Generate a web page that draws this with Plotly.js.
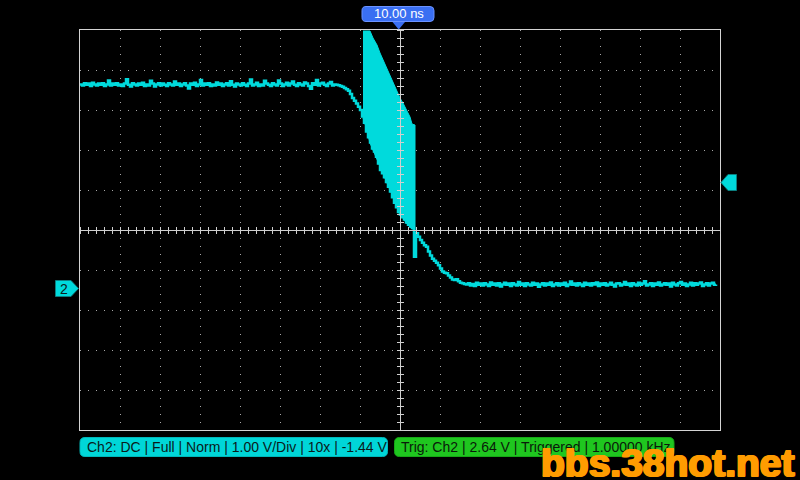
<!DOCTYPE html>
<html>
<head>
<meta charset="utf-8">
<script src="https://cdn.plot.ly/plotly-3.0.1.min.js"></script>
<style>
  html, body { margin: 0; padding: 0; background: #000; }
  #chart { width: 800px; height: 480px; }
</style>
</head>
<body>
<div id="chart"></div>
<script>
// ---- Data (time in divisions relative to screen centre, voltage in V) ----
// Sampled waveform: first sample at -8 div, one sample every 0.05 div
const sampleStart = -8;
const sampleStep = 0.05;

// High level before the edge (5 V logic level, noisy)
const highLevel = [
  5.08,5.05,5.11,5.07,5.10,5.04,5.12,5.08,5.05,5.10,
  5.07,5.11,5.04,5.08,5.18,5.05,5.10,5.07,5.11,5.05,
  5.08,5.04,5.10,5.21,5.07,5.03,5.11,5.08,5.05,5.10,
  5.07,5.12,5.04,5.08,5.05,5.17,5.10,5.03,5.08,5.11,
  5.05,5.10,5.07,5.04,5.11,5.08,5.05,5.15,5.07,5.10,
  5.04,5.08,5.11,5.05,4.98,5.10,5.07,5.12,5.04,5.08,
  5.19,5.05,5.10,5.07,5.11,5.04,5.08,5.05,5.13,5.07,
  5.10,5.04,5.08,5.11,5.05,5.16,5.07,5.03,5.10,5.08,
  5.05,5.11,5.07,5.04,5.10,5.20,5.05,5.08,5.12,5.04,
  5.08,5.05,5.17,5.10,5.07,5.04,5.11,5.08,5.05,5.18,
  5.10,5.04,5.08,5.12,5.05,5.10,5.15,5.07,5.04,5.11,
  5.08,5.05,5.13,5.10,5.04,4.97,5.11,5.07,5.19,5.05,
  5.10,5.12,5.07,5.04,5.10,5.14,5.05,5.08,5.07
];

// Falling edge
const fallingEdge = [
  5.06,5.04,5.02,4.99,4.96,4.92,4.84,4.74,4.67,4.60,
  4.52,4.44,4.28,4.12,3.90,3.76,3.63,3.48,3.40,3.27,
  3.10,2.94,2.86,2.76,2.64,2.52,2.40,2.26,2.12,2.01,
  1.89,1.83,1.76,1.70,1.63,1.57,1.53,1.49,0.77,1.36,
  1.27,1.19,1.12,1.06,1.02,0.90,0.80,0.72,0.67,0.62,
  0.56,0.48,0.40,0.37,0.36,0.30,0.25,0.20,0.19,0.21,
  0.16,0.12,0.11,0.09
];

// Low level after the edge
const lowLevel = [
  0.08,0.11,0.05,0.09,0.04,0.12,0.07,0.10,0.05,0.11,
  0.08,0.04,0.13,0.07,0.10,0.05,0.11,0.03,0.08,0.12,
  0.07,0.10,0.04,0.11,0.08,0.05,0.14,0.07,0.10,0.04,
  0.11,0.08,0.05,0.12,0.07,0.10,0.02,0.08,0.11,0.05,
  0.10,0.07,0.13,0.04,0.08,0.11,0.05,0.10,0.07,0.12,
  0.04,0.08,0.15,0.07,0.10,0.05,0.11,0.08,0.04,0.12,
  0.07,0.10,0.05,0.11,0.08,0.13,0.04,0.10,0.07,0.11,
  0.05,0.08,0.12,0.07,0.03,0.10,0.11,0.05,0.08,0.14,
  0.07,0.10,0.04,0.11,0.08,0.05,0.12,0.07,0.10,0.16,
  0.05,0.08,0.11,0.04,0.10,0.07,0.13,0.05,0.08,0.11,
  0.07,0.10,0.03,0.12,0.08,0.05,0.11,0.14,0.07,0.10,
  0.04,0.08,0.12,0.05,0.11,0.07,0.10,0.13,0.04,0.08,
  0.11,0.05,0.10,0.12,0.07,0.08
];

// Ringing burst on the edge: envelope (upper / lower) versus time
const burstTime  = [-0.925,-0.85,-0.75,-0.675,-0.575,-0.5,-0.425,-0.325,-0.25,-0.175,-0.075,0,0.075,0.175,0.25,0.3,0.375];
const burstUpper = [6.415,6.415,6.415,6.24,6.065,5.865,5.69,5.49,5.315,5.115,4.89,4.74,4.615,4.39,4.265,4.09,4.065];
const burstLower = [4.24,4.015,3.615,3.44,3.19,2.99,2.84,2.615,2.44,2.265,2.015,1.865,1.74,1.59,1.515,1.49,1.39];

// Scope settings / labels
const voltsPerDiv = 1.0;
const offsetV = 1.44;          // screen centre voltage
const triggerLevel = 2.64;
const horizPosLabel = '10.00 ns';
const chLabel = 'Ch2: DC | Full | Norm | 1.00 V/Div | 10x | -1.44 V';
const trigLabel = 'Trig: Ch2 | 2.64 V | Triggered | 1.00000 kHz';
const watermark = 'bbs.38hot.net';

// ---- Build ----
const waveform = highLevel.concat(fallingEdge, lowLevel);
const yRange = [offsetV - 5 * voltsPerDiv, offsetV + 5 * voltsPerDiv];
const xRange = [-8, 8];

const CYAN = '#00dadc';
const ORANGE = '#ff9c00';

const traces = [
  {
    type: 'scatter', mode: 'lines',
    x0: sampleStart, dx: sampleStep, y: waveform,
    line: { color: CYAN, width: 2.5, shape: 'hv' },
    hoverinfo: 'skip', showlegend: false
  },
  {
    type: 'scatter', mode: 'lines',
    x: burstTime.concat(burstTime.slice().reverse()),
    y: burstUpper.concat(burstLower.slice().reverse()),
    fill: 'toself', fillcolor: CYAN,
    line: { color: CYAN, width: 1 },
    hoverinfo: 'skip', showlegend: false
  },
  // empty traces so the centre-line axes are created
  { type: 'scatter', x: [], y: [], xaxis: 'x2', yaxis: 'y', showlegend: false },
  { type: 'scatter', x: [], y: [], xaxis: 'x3', yaxis: 'y', showlegend: false },
  { type: 'scatter', x: [], y: [], xaxis: 'x', yaxis: 'y2', showlegend: false },
  { type: 'scatter', x: [], y: [], xaxis: 'x', yaxis: 'y3', showlegend: false }
];

// pixel -> paper helpers for the on-screen badges
const L = 80, T = 30, W = 640, H = 400;
const PX = x => +((x - L) / W).toFixed(5);
const PY = y => +((T + H - y) / H).toFixed(5);
function roundRect(x0, y0, x1, y1, r) {
  return 'M' + PX(x0 + r) + ',' + PY(y0) +
    ' L' + PX(x1 - r) + ',' + PY(y0) +
    ' Q' + PX(x1) + ',' + PY(y0) + ' ' + PX(x1) + ',' + PY(y0 + r) +
    ' L' + PX(x1) + ',' + PY(y1 - r) +
    ' Q' + PX(x1) + ',' + PY(y1) + ' ' + PX(x1 - r) + ',' + PY(y1) +
    ' L' + PX(x0 + r) + ',' + PY(y1) +
    ' Q' + PX(x0) + ',' + PY(y1) + ' ' + PX(x0) + ',' + PY(y1 - r) +
    ' L' + PX(x0) + ',' + PY(y0 + r) +
    ' Q' + PX(x0) + ',' + PY(y0) + ' ' + PX(x0 + r) + ',' + PY(y0) + ' Z';
}
function poly(pts) {
  return 'M' + pts.map(p => PX(p[0]) + ',' + PY(p[1])).join(' L') + ' Z';
}

const centreAxis = {
  range: xRange, showgrid: false, zeroline: false, showticklabels: false,
  showline: true, linecolor: '#cfcfcf', linewidth: 1,
  ticks: 'outside', ticklen: 3, tickwidth: 1, tickcolor: '#cfcfcf',
  tick0: 0, dtick: 0.2, overlaying: 'x', anchor: 'free', position: 0.5
};
const centreYAxis = {
  range: yRange, showgrid: false, zeroline: false, showticklabels: false,
  showline: true, linecolor: '#cfcfcf', linewidth: 1,
  ticks: 'outside', ticklen: 3, tickwidth: 1, tickcolor: '#cfcfcf',
  tick0: 0.04, dtick: 0.2, overlaying: 'y', anchor: 'free', position: 0.5
};

const layout = {
  width: 800, height: 480,
  margin: { l: L, r: 800 - L - W, t: T, b: 480 - T - H, pad: 0 },
  paper_bgcolor: '#000', plot_bgcolor: '#000',
  showlegend: false,
  font: { family: 'Liberation Sans, Arial, sans-serif', color: '#fff' },
  xaxis: {
    range: xRange, tick0: 0, dtick: 1,
    showgrid: true, gridcolor: '#a8a8a8', gridwidth: 1, griddash: '1px,7px',
    zeroline: false, showticklabels: false, ticks: '',
    showline: true, mirror: true, linecolor: '#d4d4d4', linewidth: 1
  },
  yaxis: {
    range: yRange, tick0: offsetV - 1, dtick: voltsPerDiv,
    showgrid: true, gridcolor: '#a8a8a8', gridwidth: 1, griddash: '1px,7px',
    zeroline: false, showticklabels: false, ticks: '',
    showline: true, mirror: true, linecolor: '#d4d4d4', linewidth: 1
  },
  xaxis2: Object.assign({}, centreAxis, { side: 'bottom' }),
  xaxis3: Object.assign({}, centreAxis, { side: 'top' }),
  yaxis2: Object.assign({}, centreYAxis, { side: 'left' }),
  yaxis3: Object.assign({}, centreYAxis, { side: 'right' }),
  shapes: [
    // horizontal position badge
    { type: 'path', xref: 'paper', yref: 'paper', path: roundRect(362, 6.5, 434, 21.5, 4),
      fillcolor: '#3a6ff2', line: { color: '#6b93ff', width: 1 } },
    { type: 'path', xref: 'paper', yref: 'paper', path: poly([[392.5, 22], [405, 22], [398.7, 29.5]]),
      fillcolor: '#3a6ff2', line: { width: 0 } },
    // channel ground marker
    { type: 'path', xref: 'paper', yref: 'paper',
      path: poly([[55.5, 280.5], [71, 280.5], [78.5, 288.5], [71, 296.5], [55.5, 296.5]]),
      fillcolor: CYAN, line: { color: '#0b7f80', width: 1 } },
    // trigger level marker
    { type: 'path', xref: 'paper', yref: 'paper',
      path: poly([[721, 182.5], [728, 174.5], [736.5, 174.5], [736.5, 190.5], [728, 190.5]]),
      fillcolor: CYAN, line: { color: '#0b7f80', width: 1 } },
    // status bars
    { type: 'path', xref: 'paper', yref: 'paper', path: roundRect(80, 437.5, 387.5, 456.5, 5),
      fillcolor: '#00d6d8', line: { color: '#00b8ba', width: 1 } },
    { type: 'path', xref: 'paper', yref: 'paper', path: roundRect(394.5, 437.5, 674, 456.5, 5),
      fillcolor: '#1fc61f', line: { color: '#17a817', width: 1 } }
  ],
  annotations: [
    { xref: 'paper', yref: 'paper', x: PX(398.5), y: PY(14), xanchor: 'center', yanchor: 'middle',
      text: horizPosLabel, showarrow: false,
      font: { family: 'Liberation Sans, Arial, sans-serif', size: 13, color: '#ffffff' } },
    { xref: 'paper', yref: 'paper', x: PX(63.5), y: PY(288.5), xanchor: 'center', yanchor: 'middle',
      text: '2', showarrow: false,
      font: { family: 'Liberation Sans, Arial, sans-serif', size: 14, color: '#0a2020' } },
    { xref: 'paper', yref: 'paper', x: PX(85), y: PY(447), xanchor: 'left', yanchor: 'middle',
      text: chLabel, showarrow: false,
      font: { family: 'Liberation Sans, Arial, sans-serif', size: 14, color: '#0a1a1a' } },
    { xref: 'paper', yref: 'paper', x: PX(399), y: PY(447), xanchor: 'left', yanchor: 'middle',
      text: trigLabel, showarrow: false,
      font: { family: 'Liberation Sans, Arial, sans-serif', size: 14, color: '#0a1a0a' } },
    { xref: 'paper', yref: 'paper', x: PX(538), y: PY(462), xanchor: 'left', yanchor: 'middle',
      text: '<b>' + watermark + '</b>', showarrow: false,
      font: { family: 'Liberation Sans, Arial, sans-serif', size: 39, color: ORANGE,
              shadow: '1px 0 0 ' + ORANGE + ', 0 1px 0 ' + ORANGE + ', 1px 1px 0 ' + ORANGE + ', 2px 0 0 ' + ORANGE + ', 2px 1px 0 ' + ORANGE } }
  ]
};

Plotly.newPlot('chart', traces, layout, { staticPlot: true, displayModeBar: false });
</script>
</body>
</html>
